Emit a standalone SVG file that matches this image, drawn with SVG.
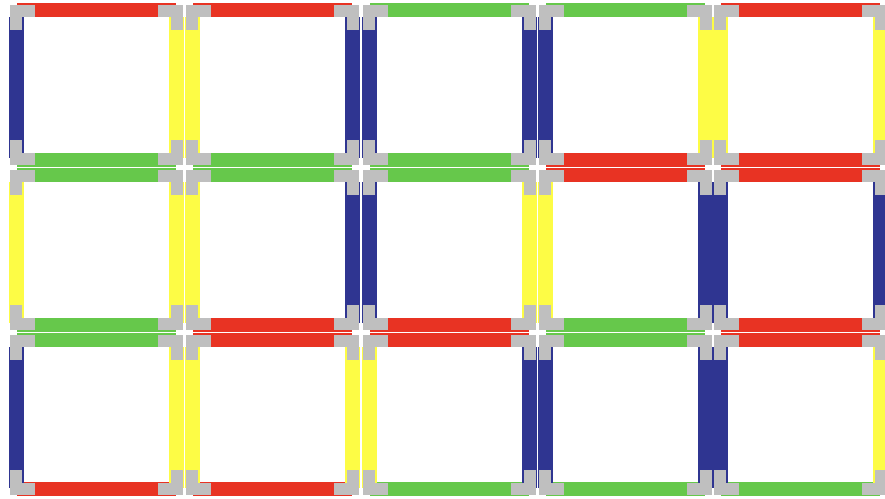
<svg xmlns="http://www.w3.org/2000/svg" xmlns:xlink="http://www.w3.org/1999/xlink" width="885" height="499" viewBox="0 0 885 499">
<style>
.R{fill:#e83323}.G{fill:#66c84b}.B{fill:#2f3591}.Y{fill:#fdfc45}.K{fill:#bfbfbf}
.h{stroke-width:0.6;stroke-opacity:0.5;stroke:#ffffff}
</style>
<defs>
<path id="L" d="M0,0 h25 v12 h-13 v13 h-12 z"/>
</defs>
<rect width="885" height="499" fill="#ffffff"/>
<g id="cell-0-0" transform="translate(9,3)">
<rect class="R" x="8" y="0" width="159" height="14"/><rect class="G" x="8" y="150" width="159" height="14"/>
<rect class="B" x="0" y="14" width="15" height="141"/><rect class="Y" x="160" y="14" width="15" height="141"/>
<g class="K"><use xlink:href="#L" transform="translate(1,2)"/><use xlink:href="#L" transform="translate(174,2) scale(-1,1)"/><use xlink:href="#L" transform="translate(1,162) scale(1,-1)"/><use xlink:href="#L" transform="translate(174,162) scale(-1,-1)"/></g>
</g>
<g id="cell-0-1" transform="translate(185,3)">
<rect class="R" x="8" y="0" width="159" height="14"/><rect class="G" x="8" y="150" width="159" height="14"/>
<rect class="Y" x="0" y="14" width="15" height="141"/><rect class="B" x="160" y="14" width="15" height="141"/>
<g class="K"><use xlink:href="#L" transform="translate(1,2)"/><use xlink:href="#L" transform="translate(174,2) scale(-1,1)"/><use xlink:href="#L" transform="translate(1,162) scale(1,-1)"/><use xlink:href="#L" transform="translate(174,162) scale(-1,-1)"/></g>
</g>
<g id="cell-0-2" transform="translate(362,3)">
<rect class="G" x="8" y="0" width="159" height="14"/><rect class="G" x="8" y="150" width="159" height="14"/>
<rect class="B" x="0" y="14" width="15" height="141"/><rect class="B" x="160" y="14" width="15" height="141"/>
<g class="K"><use xlink:href="#L" transform="translate(1,2)"/><use xlink:href="#L" transform="translate(174,2) scale(-1,1)"/><use xlink:href="#L" transform="translate(1,162) scale(1,-1)"/><use xlink:href="#L" transform="translate(174,162) scale(-1,-1)"/></g>
</g>
<g id="cell-0-3" transform="translate(538,3)">
<rect class="G" x="8" y="0" width="159" height="14"/><rect class="R" x="8" y="150" width="159" height="14"/>
<rect class="B" x="0" y="14" width="15" height="141"/><rect class="Y" x="160" y="14" width="15" height="141"/>
<g class="K"><use xlink:href="#L" transform="translate(1,2)"/><use xlink:href="#L" transform="translate(174,2) scale(-1,1)"/><use xlink:href="#L" transform="translate(1,162) scale(1,-1)"/><use xlink:href="#L" transform="translate(174,162) scale(-1,-1)"/></g>
</g>
<g id="cell-0-4" transform="translate(713,3)">
<rect class="R" x="8" y="0" width="159" height="14"/><rect class="R" x="8" y="150" width="159" height="14"/>
<rect class="Y" x="0" y="14" width="15" height="141"/><rect class="Y" x="160" y="14" width="15" height="141"/>
<g class="K"><use xlink:href="#L" transform="translate(1,2)"/><use xlink:href="#L" transform="translate(174,2) scale(-1,1)"/><use xlink:href="#L" transform="translate(1,162) scale(1,-1)"/><use xlink:href="#L" transform="translate(174,162) scale(-1,-1)"/></g>
</g>
<g id="cell-1-0" transform="translate(9,168)">
<rect class="G" x="8" y="0" width="159" height="14"/><rect class="G" x="8" y="150" width="159" height="14"/>
<rect class="Y" x="0" y="14" width="15" height="141"/><rect class="Y" x="160" y="14" width="15" height="141"/>
<g class="K"><use xlink:href="#L" transform="translate(1,2)"/><use xlink:href="#L" transform="translate(174,2) scale(-1,1)"/><use xlink:href="#L" transform="translate(1,162) scale(1,-1)"/><use xlink:href="#L" transform="translate(174,162) scale(-1,-1)"/></g>
</g>
<g id="cell-1-1" transform="translate(185,168)">
<rect class="G" x="8" y="0" width="159" height="14"/><rect class="R" x="8" y="150" width="159" height="14"/>
<rect class="Y" x="0" y="14" width="15" height="141"/><rect class="B" x="160" y="14" width="15" height="141"/>
<g class="K"><use xlink:href="#L" transform="translate(1,2)"/><use xlink:href="#L" transform="translate(174,2) scale(-1,1)"/><use xlink:href="#L" transform="translate(1,162) scale(1,-1)"/><use xlink:href="#L" transform="translate(174,162) scale(-1,-1)"/></g>
</g>
<g id="cell-1-2" transform="translate(362,168)">
<rect class="G" x="8" y="0" width="159" height="14"/><rect class="R" x="8" y="150" width="159" height="14"/>
<rect class="B" x="0" y="14" width="15" height="141"/><rect class="Y" x="160" y="14" width="15" height="141"/>
<g class="K"><use xlink:href="#L" transform="translate(1,2)"/><use xlink:href="#L" transform="translate(174,2) scale(-1,1)"/><use xlink:href="#L" transform="translate(1,162) scale(1,-1)"/><use xlink:href="#L" transform="translate(174,162) scale(-1,-1)"/></g>
</g>
<g id="cell-1-3" transform="translate(538,168)">
<rect class="R" x="8" y="0" width="159" height="14"/><rect class="G" x="8" y="150" width="159" height="14"/>
<rect class="Y" x="0" y="14" width="15" height="141"/><rect class="B" x="160" y="14" width="15" height="141"/>
<g class="K"><use xlink:href="#L" transform="translate(1,2)"/><use xlink:href="#L" transform="translate(174,2) scale(-1,1)"/><use xlink:href="#L" transform="translate(1,162) scale(1,-1)"/><use xlink:href="#L" transform="translate(174,162) scale(-1,-1)"/></g>
</g>
<g id="cell-1-4" transform="translate(713,168)">
<rect class="R" x="8" y="0" width="159" height="14"/><rect class="R" x="8" y="150" width="159" height="14"/>
<rect class="B" x="0" y="14" width="15" height="141"/><rect class="B" x="160" y="14" width="15" height="141"/>
<g class="K"><use xlink:href="#L" transform="translate(1,2)"/><use xlink:href="#L" transform="translate(174,2) scale(-1,1)"/><use xlink:href="#L" transform="translate(1,162) scale(1,-1)"/><use xlink:href="#L" transform="translate(174,162) scale(-1,-1)"/></g>
</g>
<g id="cell-2-0" transform="translate(9,333)">
<rect class="G" x="8" y="0" width="159" height="14"/><rect class="R" x="8" y="149" width="159" height="14"/>
<rect class="B" x="0" y="14" width="15" height="141"/><rect class="Y" x="160" y="14" width="15" height="141"/>
<g class="K"><use xlink:href="#L" transform="translate(1,2)"/><use xlink:href="#L" transform="translate(174,2) scale(-1,1)"/><use xlink:href="#L" transform="translate(1,162) scale(1,-1)"/><use xlink:href="#L" transform="translate(174,162) scale(-1,-1)"/></g>
</g>
<g id="cell-2-1" transform="translate(185,333)">
<rect class="R" x="8" y="0" width="159" height="14"/><rect class="R" x="8" y="149" width="159" height="14"/>
<rect class="Y" x="0" y="14" width="15" height="141"/><rect class="Y" x="160" y="14" width="15" height="141"/>
<g class="K"><use xlink:href="#L" transform="translate(1,2)"/><use xlink:href="#L" transform="translate(174,2) scale(-1,1)"/><use xlink:href="#L" transform="translate(1,162) scale(1,-1)"/><use xlink:href="#L" transform="translate(174,162) scale(-1,-1)"/></g>
</g>
<g id="cell-2-2" transform="translate(362,333)">
<rect class="R" x="8" y="0" width="159" height="14"/><rect class="G" x="8" y="149" width="159" height="14"/>
<rect class="Y" x="0" y="14" width="15" height="141"/><rect class="B" x="160" y="14" width="15" height="141"/>
<g class="K"><use xlink:href="#L" transform="translate(1,2)"/><use xlink:href="#L" transform="translate(174,2) scale(-1,1)"/><use xlink:href="#L" transform="translate(1,162) scale(1,-1)"/><use xlink:href="#L" transform="translate(174,162) scale(-1,-1)"/></g>
</g>
<g id="cell-2-3" transform="translate(538,333)">
<rect class="G" x="8" y="0" width="159" height="14"/><rect class="G" x="8" y="149" width="159" height="14"/>
<rect class="B" x="0" y="14" width="15" height="141"/><rect class="B" x="160" y="14" width="15" height="141"/>
<g class="K"><use xlink:href="#L" transform="translate(1,2)"/><use xlink:href="#L" transform="translate(174,2) scale(-1,1)"/><use xlink:href="#L" transform="translate(1,162) scale(1,-1)"/><use xlink:href="#L" transform="translate(174,162) scale(-1,-1)"/></g>
</g>
<g id="cell-2-4" transform="translate(713,333)">
<rect class="R" x="8" y="0" width="159" height="14"/><rect class="G" x="8" y="149" width="159" height="14"/>
<rect class="B" x="0" y="14" width="15" height="141"/><rect class="Y" x="160" y="14" width="15" height="141"/>
<g class="K"><use xlink:href="#L" transform="translate(1,2)"/><use xlink:href="#L" transform="translate(174,2) scale(-1,1)"/><use xlink:href="#L" transform="translate(1,162) scale(1,-1)"/><use xlink:href="#L" transform="translate(174,162) scale(-1,-1)"/></g>
</g>
</svg>
